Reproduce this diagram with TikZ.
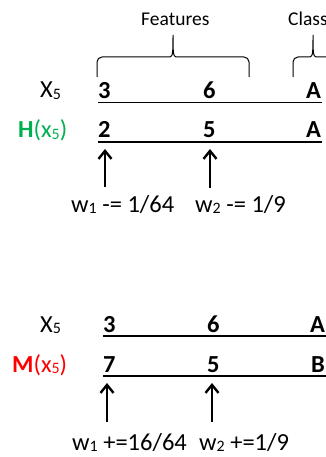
\documentclass[tikz,border=0pt]{standalone}
\usepackage{fontspec}
\setmainfont{Carlito}
\usetikzlibrary{arrows.meta}
\definecolor{offgreen}{RGB}{0,176,80}
\definecolor{offred}{RGB}{255,0,0}
\newcommand\lsub[1]{\raisebox{-0.12ex}{\scalebox{0.65}{#1}}}
\tikzset{
  txt/.style={inner sep=0pt, anchor=base west, font=\fontsize{24.5}{28}\selectfont},
  val/.style={txt, font=\fontsize{24.5}{28}\selectfont\bfseries},
  hdr/.style={inner sep=0pt, anchor=base west, font=\fontsize{19.5}{23}\selectfont},
  rule/.style={line width=1.3pt},
  brace/.style={line width=1pt},
  upar/.style={line width=2.6pt, -{Straight Barb[length=8pt,width=13pt,line width=2.4pt]}},
}
\begin{document}
\begin{tikzpicture}[x=1pt,y=-1pt]
\useasboundingbox (0,0) rectangle (326,457);
% header
\node[hdr] (feat) at (141,25.5) {Features};
\node[hdr] (cls) at (288,25.5) {Class};
\draw[brace] (97,77) -- (97,62) arc[start angle=180,end angle=270,radius=5] -- (170,57)
  .. controls (173,57) and (173,50) .. (173,35)
  .. controls (173,50) and (173,57) .. (176,57) -- (244,57)
  arc[start angle=270,end angle=360,radius=5] -- (249,77);
\draw[brace] (293,77) -- (293,62) arc[start angle=180,end angle=270,radius=5] -- (310,57)
  .. controls (313,57) and (313,50) .. (313,35)
  .. controls (313,50) and (313,57) .. (316,57) -- (328,57);
% panel 1
\node[txt] (xa) at (40,98) {X\lsub{5}};
\node[val] (a1) at (98,99) {3};
\node[val] (a2) at (203,99) {6};
\node[val] (a3) at (306,99) {A};
\coordinate (la1) at (98,102.5); \coordinate (la2) at (322,102.5);
\draw[rule] (la1) -- (la2);
\node[txt, text=offgreen] (hx) at (18,138) {\textbf{H}(x\lsub{5})};
\node[val] (b1) at (98,138) {2};
\node[val] (b2) at (203,138) {5};
\node[val] (b3) at (306,138) {A};
\coordinate (lb1) at (98,142); \coordinate (lb2) at (322,142);
\draw[rule] (lb1) -- (lb2);
\coordinate (p1s) at (105,187); \coordinate (p1e) at (105,149);
\coordinate (p2s) at (210,188); \coordinate (p2e) at (210,149);
\draw[upar] (p1s) -- (p1e);
\draw[upar] (p2s) -- (p2e);
\node[txt] (w1) at (71,212) {w\lsub{1} -= 1/64};
\node[txt] (w2) at (195,212) {w\lsub{2} -= 1/9};
% panel 2
\node[txt] (xc) at (40,332) {X\lsub{5}};
\node[val] (c1) at (103,332) {3};
\node[val] (c2) at (207,332) {6};
\node[val] (c3) at (310,332) {A};
\coordinate (lc1) at (103,336); \coordinate (lc2) at (326,336);
\draw[rule] (lc1) -- (lc2);
\node[txt, text=offred] (mx) at (12,372) {\textbf{M}(x\lsub{5})};
\node[val] (d1) at (103,372) {7};
\node[val] (d2) at (207,372) {5};
\node[val] (d3) at (311,372) {B};
\coordinate (ld1) at (103,376); \coordinate (ld2) at (326,376);
\draw[rule] (ld1) -- (ld2);
\coordinate (q1s) at (107,422); \coordinate (q1e) at (107,383);
\coordinate (q2s) at (212,422); \coordinate (q2e) at (212,383);
\draw[upar] (q1s) -- (q1e);
\draw[upar] (q2s) -- (q2e);
\node[txt] (v1) at (72,450) {w\lsub{1} +=16/64};
\node[txt] (v2) at (199,450) {w\lsub{2} +=1/9};
\end{tikzpicture}
\end{document}
